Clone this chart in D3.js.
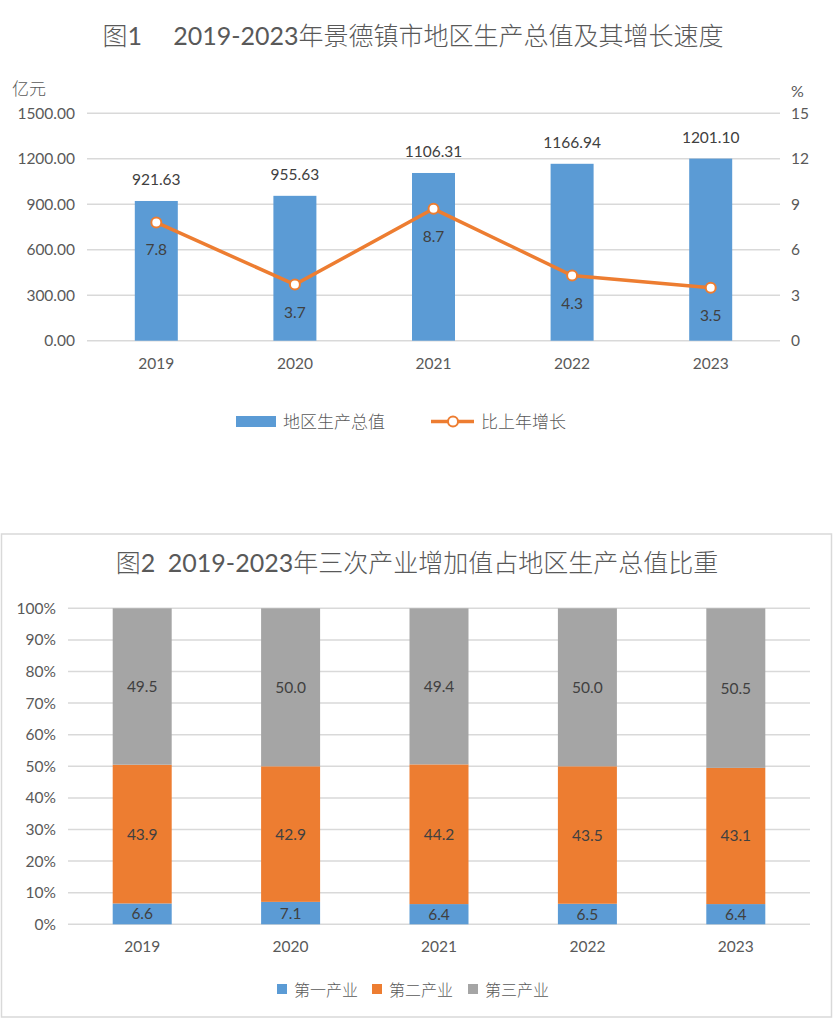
<!DOCTYPE html>
<html>
<head>
  <meta charset="utf-8">
  <title>景德镇市地区生产总值</title>
  <script src="https://d3js.org/d3.v7.min.js"></script>
<style>
    body { margin: 0; background: #fff; }
    svg text { font-family: Lato, "Noto Sans CJK SC", sans-serif; fill: #595959; }
    .grid line { stroke: #d9d9d9; stroke-width: 1.5; }
    .domain { display: none; }
    .tick line { display: none; }
    .lt { font-weight: 300; }
    </style>
  </head>
<body>
<div id="chart"></div>
  <script>
// data
var years = ["2019", "2020", "2021", "2022", "2023"];
var gdp = [921.63, 955.63, 1106.31, 1166.94, 1201.10];
var growth = [7.8, 3.7, 8.7, 4.3, 3.5];
var gdpTicks = [0, 300, 600, 900, 1200, 1500];
var growthTicks = [0, 3, 6, 9, 12, 15];

var primary = [6.6, 7.1, 6.4, 6.5, 6.4];
var secondary = [43.9, 42.9, 44.2, 43.5, 43.1];
var tertiary = [49.5, 50.0, 49.4, 50.0, 50.5];
var sectorNames = ["第一产业", "第二产业", "第三产业"];
var sectorColors = ["#5b9bd5", "#ed7d31", "#a5a5a5"];
var pctTicks = [0, 10, 20, 30, 40, 50, 60, 70, 80, 90, 100];

var svg = d3.select("#chart").append("svg")
  .attr("width", 835)
  .attr("height", 1020);

// title made of pieces: chinese light, digits regular
function title(g, x, y, parts) {
  var t = g.append("text")
    .attr("x", x).attr("y", y)
    .attr("text-anchor", "middle")
    .style("font-size", "25px");
  parts.forEach(function(p) {
    t.append("tspan").attr("class", p[1] ? "lt" : null).text(p[0]);
  });
}

// ---------- chart 1 ----------
var g1 = svg.append("g");
title(g1, 413, 45, [["图", 1], ["1\u3000 2019-2023", 0], ["年景德镇市地区生产总值及其增长速度", 1]]);

var x1 = d3.scaleBand().domain(years).range([87, 780]);
var yL = d3.scaleLinear().domain([0, 1500]).range([340.7, 113.3]);
var yR = d3.scaleLinear().domain([0, 15]).range([340.7, 113.3]);

// gridlines
g1.append("g").attr("class", "grid")
  .selectAll("line").data(gdpTicks).enter().append("line")
  .attr("x1", 87).attr("x2", 780)
  .attr("y1", function(d) { return yL(d); })
  .attr("y2", function(d) { return yL(d); });

g1.append("g")
  .attr("transform", "translate(87,0)")
  .call(d3.axisLeft(yL).tickValues(gdpTicks).tickFormat(d3.format(".2f")).tickSize(0).tickPadding(12))
  .selectAll("text").style("font-size", "15.5px").attr("fill", "#595959");

g1.append("g")
  .attr("transform", "translate(780,0)")
  .call(d3.axisRight(yR).tickValues(growthTicks).tickSize(0).tickPadding(11))
  .selectAll("text").style("font-size", "15.5px").attr("fill", "#595959");

g1.append("g")
  .attr("transform", "translate(0,340.7)")
  .call(d3.axisBottom(x1).tickSize(0).tickPadding(17))
  .selectAll("text").style("font-size", "15.5px").attr("fill", "#595959");

g1.append("text").attr("x", 12).attr("y", 95).attr("class", "lt").style("font-size", "17px").text("亿元");
g1.append("text").attr("x", 791).attr("y", 97).style("font-size", "16px").text("%");

var bw1 = 43;
g1.selectAll(".bar").data(gdp).enter().append("rect")
  .attr("class", "bar")
  .attr("x", function(d, i) { return x1(years[i]) + x1.bandwidth() / 2 - bw1 / 2; })
  .attr("y", function(d) { return yL(d); })
  .attr("width", bw1)
  .attr("height", function(d) { return yL(0) - yL(d); })
  .attr("fill", "#5b9bd5");

g1.selectAll(".barlab").data(gdp).enter().append("text")
  .attr("x", function(d, i) { return x1(years[i]) + x1.bandwidth() / 2; })
  .attr("y", function(d) { return yL(d) - 16; })
  .attr("text-anchor", "middle")
  .style("font-size", "15.5px").style("fill", "#404040")
  .text(function(d) { return d.toFixed(2); });

var line = d3.line()
  .x(function(d, i) { return x1(years[i]) + x1.bandwidth() / 2; })
  .y(function(d) { return yR(d); });

g1.append("path").datum(growth)
  .attr("d", line)
  .attr("fill", "none")
  .attr("stroke", "#ed7d31")
  .attr("stroke-width", 3.5);

g1.selectAll(".dot").data(growth).enter().append("circle")
  .attr("cx", function(d, i) { return x1(years[i]) + x1.bandwidth() / 2; })
  .attr("cy", function(d) { return yR(d); })
  .attr("r", 5)
  .attr("fill", "#fff")
  .attr("stroke", "#ed7d31")
  .attr("stroke-width", 2);

g1.selectAll(".gl").data(growth).enter().append("text")
  .attr("x", function(d, i) { return x1(years[i]) + x1.bandwidth() / 2; })
  .attr("y", function(d) { return yR(d) + 33; })
  .attr("text-anchor", "middle")
  .style("font-size", "15.5px").style("fill", "#404040")
  .text(function(d) { return d.toFixed(1); });

// legend 1
g1.append("rect").attr("x", 236).attr("y", 416).attr("width", 40).attr("height", 11).attr("fill", "#5b9bd5");
g1.append("text").attr("x", 283).attr("y", 428).attr("class", "lt").style("font-size", "17px").text("地区生产总值");
g1.append("line").attr("x1", 431).attr("x2", 474).attr("y1", 421.5).attr("y2", 421.5)
  .attr("stroke", "#ed7d31").attr("stroke-width", 3.5);
g1.append("circle").attr("cx", 453).attr("cy", 421.5).attr("r", 5)
  .attr("fill", "#fff").attr("stroke", "#ed7d31").attr("stroke-width", 2);
g1.append("text").attr("x", 481).attr("y", 428).attr("class", "lt").style("font-size", "17px").text("比上年增长");

// ---------- chart 2 ----------
var g2 = svg.append("g");
g2.append("rect")
  .attr("x", 1.5).attr("y", 534).attr("width", 830).attr("height", 483)
  .attr("fill", "none").attr("stroke", "#d9d9d9").attr("stroke-width", 1.5);

title(g2, 417, 572, [["图", 1], ["2\u20022019-2023", 0], ["年三次产业增加值占地区生产总值比重", 1]]);

var x2 = d3.scaleBand().domain(years).range([68, 810]);
var y2 = d3.scaleLinear().domain([0, 100]).range([924.3, 608.3]);

g2.append("g").attr("class", "grid")
  .selectAll("line").data(pctTicks).enter().append("line")
  .attr("x1", 68).attr("x2", 810)
  .attr("y1", function(d) { return y2(d); })
  .attr("y2", function(d) { return y2(d); });

g2.append("g")
  .attr("transform", "translate(68,0)")
  .call(d3.axisLeft(y2).tickValues(pctTicks).tickFormat(function(d) { return d + "%"; }).tickSize(0).tickPadding(12))
  .selectAll("text").style("font-size", "15.5px").attr("fill", "#595959");

g2.append("g")
  .attr("transform", "translate(0,924.3)")
  .call(d3.axisBottom(x2).tickSize(0).tickPadding(17))
  .selectAll("text").style("font-size", "15.5px").attr("fill", "#595959");

var table = years.map(function(y, i) {
  return { year: y, p: primary[i], s: secondary[i], t: tertiary[i] };
});
var stack = d3.stack().keys(["p", "s", "t"])(table);

var bw2 = 59;
var layers = g2.selectAll(".layer").data(stack).enter().append("g")
  .attr("fill", function(d, i) { return sectorColors[i]; });

layers.selectAll("rect").data(function(d) { return d; }).enter().append("rect")
  .attr("x", function(d) { return x2(d.data.year) + x2.bandwidth() / 2 - bw2 / 2; })
  .attr("y", function(d) { return y2(d[1]); })
  .attr("width", bw2)
  .attr("height", function(d) { return y2(d[0]) - y2(d[1]); });

layers.selectAll("text").data(function(d) { return d; }).enter().append("text")
  .attr("x", function(d) { return x2(d.data.year) + x2.bandwidth() / 2; })
  .attr("y", function(d) { return (y2(d[0]) + y2(d[1])) / 2 + 5.5; })
  .attr("text-anchor", "middle")
  .style("font-size", "15.5px").style("fill", "#404040")
  .text(function(d) { return (d[1] - d[0]).toFixed(1); });

// legend 2
var legX = [277, 372, 468];
sectorNames.forEach(function(n, i) {
  g2.append("rect").attr("x", legX[i]).attr("y", 984).attr("width", 10).attr("height", 10)
    .attr("fill", sectorColors[i]);
  g2.append("text").attr("x", legX[i] + 17).attr("y", 996).attr("class", "lt").style("font-size", "16px").text(n);
});

     </script>
 </body>
</html>
